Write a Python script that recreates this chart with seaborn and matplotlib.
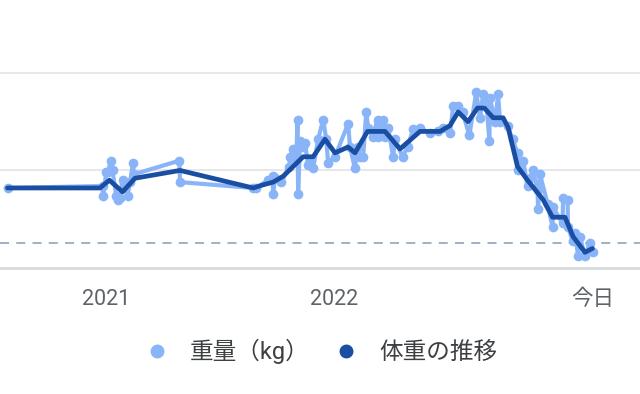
import matplotlib
matplotlib.use("Agg")
import matplotlib.pyplot as plt
from matplotlib.lines import Line2D
import numpy as np
import pandas as pd
import seaborn as sns

# ---------------------------------------------------------------------------
# Data (days since 2021-01-01, weight in kg)
# ---------------------------------------------------------------------------

BASE_DATE = pd.Timestamp("2021-01-01")
TODAY_DAY = 778
GOAL_KG = 71.3

raw_days = [
    -158, -6, -5, 0, 2, 8, 10, 16, 18, 22, 27, 29, 34, 38, 43, 44,
    117, 118, 235, 240, 259, 266, 267, 270, 280, 293, 294, 299, 304, 306,
    307, 310, 314, 318, 323, 326, 331, 339, 347, 352, 355, 366, 387, 390,
    398, 402, 406, 411, 416, 419, 426, 434, 435, 443, 446, 451, 459, 462,
    474, 482, 491, 502, 518, 530, 538, 550, 555, 563, 570, 581, 592, 598,
    603, 608, 613, 614, 622, 627, 630, 642, 650, 658, 659, 667, 674, 678,
    683, 690, 691, 694, 706, 714, 715, 730, 731, 738, 739, 746, 750, 755,
    758, 766, 774, 778,
]
raw_kg = [
    74.1, 74.2, 73.7, 74.9, 74.9, 75.5, 75.0, 73.7, 73.5, 73.6, 74.5, 74.3,
    73.7, 74.4, 75.4, 74.8, 75.5, 74.4, 74.1, 74.1, 74.5, 74.7, 73.8, 74.6,
    74.4, 75.2, 75.7, 76.1, 75.5, 77.6, 73.8, 76.5, 76.2, 76.4, 75.3, 75.5,
    75.1, 76.6, 77.6, 76.6, 75.4, 75.7, 77.4, 76.2, 75.1, 76.2, 75.7, 75.7,
    78.0, 77.2, 76.7, 77.6, 76.7, 77.6, 76.7, 77.2, 75.7, 76.6, 75.7, 76.2,
    77.1, 77.2, 76.9, 77.0, 77.2, 76.9, 78.3, 78.3, 78.0, 76.8, 79.0, 77.7,
    78.9, 78.6, 76.5, 78.7, 77.5, 78.9, 77.5, 77.3, 76.6, 75.9, 75.0, 75.5,
    74.2, 74.6, 75.0, 74.0, 73.0, 74.8, 73.3, 72.1, 73.1, 72.3, 73.6, 73.5,
    72.1, 71.4, 71.8, 70.6, 71.6, 70.6, 71.3, 70.8,
]

trend_days = [
    -158, -10, 5, 26, 46, 118, 235, 251, 267, 283, 315, 331, 350, 366, 387,
    398, 418, 446, 470, 502, 534, 550, 563, 579, 594, 605, 619, 635, 643,
    658, 674, 699, 714, 734, 747, 766, 778,
]
trend_kg = [
    74.1, 74.1, 74.5, 73.9, 74.6, 75.0, 74.1, 74.26, 74.4, 74.7, 75.7, 75.7,
    76.6, 75.9, 76.2, 75.9, 77.0, 77.0, 76.1, 77.0, 77.0, 77.3, 78.0, 77.5,
    78.2, 78.2, 77.7, 77.7, 77.2, 75.2, 74.5, 73.5, 72.6, 72.6, 71.6, 70.8,
    71.0,
]

tick_days = [0, 365, TODAY_DAY]
tick_labels = ["2021", "2022", "今日"]
legend_labels = ["重量（kg）", "体重の推移"]

LIGHT = "#8ab4f8"
DARK = "#1a4ea2"


def to_dates(days):
    return BASE_DATE + pd.to_timedelta(np.asarray(days), unit="D")


raw = pd.DataFrame({"date": to_dates(raw_days), "kg": raw_kg})
trend = pd.DataFrame({"date": to_dates(trend_days), "kg": trend_kg})

# ---------------------------------------------------------------------------
# Plot
# ---------------------------------------------------------------------------

sns.set_theme(style="white")
plt.rcParams["font.family"] = ["Roboto", "Noto Sans CJK JP", "DejaVu Sans"]

fig = plt.figure(figsize=(6.4, 3.94), dpi=100)
ax = fig.add_axes([0, 0.32, 1, 0.68])

sns.lineplot(data=raw, x="date", y="kg", color=LIGHT, lw=3.0,
             marker="o", markersize=7, markeredgewidth=0, ax=ax, zorder=3)
sns.lineplot(data=trend, x="date", y="kg", color=DARK, lw=3.4, ax=ax, zorder=4)

ax.axhline(GOAL_KG, color="#9aabbd", lw=1.3, ls=(0, (5, 4)), zorder=2)

ax.set_xlim(to_dates([-170])[0], to_dates([854])[0])
ax.set_ylim(70, 83.74)
ax.set_yticks([70, 75, 80])
ax.set_yticklabels([])
ax.grid(axis="y", color="#e0e0e0", lw=1.1)
ax.grid(axis="x", visible=False)

ax.set_xticks(to_dates(tick_days))
ax.set_xticklabels(tick_labels)
ax.tick_params(axis="x", length=7, width=1.4, color="#dadce0",
               labelsize=15.5, labelcolor="#5f6368", pad=8)
ax.tick_params(axis="y", length=0)
ax.set_xlabel("")
ax.set_ylabel("")

for side in ("top", "left", "right"):
    ax.spines[side].set_visible(False)
ax.spines["bottom"].set_color("#dadce0")
ax.spines["bottom"].set_linewidth(2.2)

handles = [
    Line2D([], [], ls="none", marker="o", markersize=9, color=LIGHT),
    Line2D([], [], ls="none", marker="o", markersize=9, color=DARK),
]
leg = fig.legend(handles, legend_labels, loc="center",
                 bbox_to_anchor=(0.493, 0.107), ncol=2, frameon=False,
                 fontsize=17, handletextpad=0.4, columnspacing=0.55)
for t in leg.get_texts():
    t.set_color("#3c4043")

fig.savefig("out.png", dpi=100)
plt.close(fig)
